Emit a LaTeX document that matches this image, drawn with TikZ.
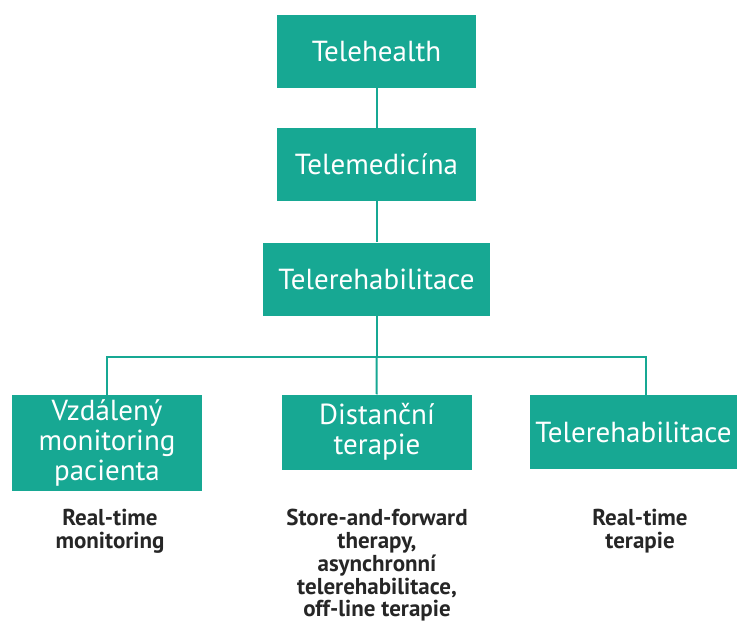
\documentclass[tikz,border=0pt]{standalone}
\usepackage{fontspec}
\setmainfont{PT Sans}
\usetikzlibrary{positioning}
\definecolor{mteal}{RGB}{23,168,147}
\tikzset{box/.style = {fill=mteal, text=white, align=center, inner sep=0pt,
                       font=\fontsize{29}{30}\selectfont},
         note/.style = {align=center, text=black!85, inner sep=0pt,
                        font=\bfseries\fontsize{23}{22.8}\selectfont},
         link/.style = {draw=mteal, line width=2pt}}

\begin{document}
\begin{tikzpicture}[x=1pt, y=-1pt]
      \useasboundingbox (0, 0) rectangle (737, 624);
      \node [box, minimum width=199pt, minimum height=73pt] (health) at (376.5, 51.5) {Telehealth};
      \node [box, minimum width=199pt, minimum height=73pt] (medic) at (376.5, 164.5) {Telemedicína};
      \node [box, minimum width=227pt, minimum height=73pt] (rehab) at (376.5, 279) {Telerehabilitace};
      \node [box, minimum width=190pt, minimum height=96pt] (remote) at (107, 443) {Vzdálený\\monitoring\\pacienta};
      \node [box, minimum width=190pt, minimum height=75pt] (dist) at (377, 432) {Distanční\\terapie};
      \node [box, minimum width=207pt, minimum height=74pt] (tele) at (633.5, 432) {Telerehabilitace};
      \node [note, anchor=north] (remotenote) at (110, 509) {Real-time\\monitoring};
      \node [note, anchor=north] (distnote) at (377, 509) {Store-and-forward\\therapy,\\asynchronní\\telerehabilitace,\\off-line terapie};
      \node [note, anchor=north] (telenote) at (640, 509) {Real-time\\terapie};
      \coordinate (fork) at (376.5, 357);
      \draw [link] (health) -- (medic);
      \draw [link] (medic) -- (rehab);
      \draw [link] (rehab) -- (fork);
      \draw [link] (fork) -| (remote.north);
      \draw [link] (fork) -- (dist);
      \draw [link] (fork) -| ([xshift=12pt]tele.north);
    \end{tikzpicture}
\end{document}
